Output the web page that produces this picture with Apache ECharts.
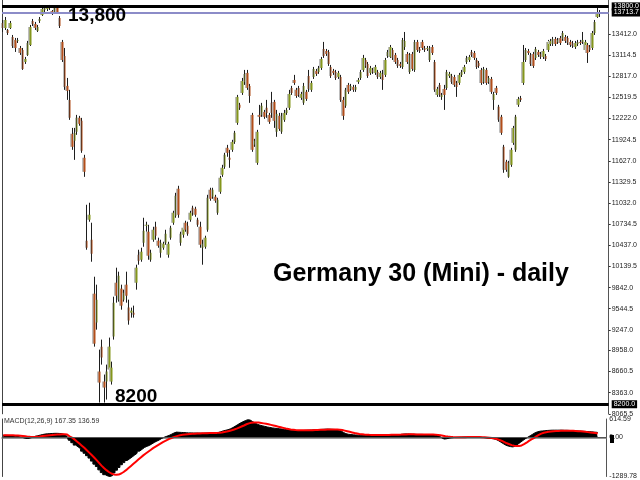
<!DOCTYPE html>
<html><head><meta charset="utf-8">
<script src="https://cdn.jsdelivr.net/npm/echarts@6/dist/echarts.min.js"></script>
<style>html,body{margin:0;padding:0;background:#fff}#c{width:640px;height:480px}</style>
</head><body><div id="c"></div>
<script>
const opens = [
13567,13496,13468,13496,13370,13328,13314,13215,13187,13018,
13117,13257,13595,13553,13454,13595,13679,13749,13763,13778,
13735,13721,13778,13637,13300,13103,12681,12484,12006,11908,
12034,12231,12189,11669,10502,10797,10516,9756,9349,8660,
9011,8519,8519,8688,8519,9152,9911,9672,9827,9672,
9883,9560,9489,9489,9911,10305,10234,10473,10712,10628,
10234,10516,10698,10502,10333,10403,10473,10305,10544,10755,
10853,11233,10473,10586,10755,10712,10797,10966,10951,10797,
10698,10403,10417,10656,11219,11120,11120,10895,11190,11430,
11542,11809,11669,11781,11893,12161,12414,12582,12737,12864,
12681,12273,11851,11598,12273,12273,12315,12372,12273,12442,
12456,12034,12259,12034,12203,12301,12372,12653,12765,12625,
12653,12512,12442,12597,12821,12625,12807,12892,12878,12934,
13201,13173,13159,12948,12892,12878,12807,12807,12484,12400,
12695,12639,12667,12625,12737,12793,12906,13046,12990,12864,
12906,12864,12878,12807,12850,12836,13103,13089,13187,13117,
13046,12990,12948,13229,13131,12878,13131,12906,13300,13201,
13300,13215,13201,13046,13229,13018,12554,12695,12526,12639,
12653,12821,12821,12807,12723,12723,12836,12878,13018,13046,
13159,13145,13046,13004,12906,12737,12906,12737,12779,12484,
12653,12386,12245,11823,11612,11401,11570,11879,11781,12414,
12512,12723,13046,13173,13117,13131,13075,13159,13131,13089,
13103,13187,13271,13271,13342,13300,13356,13342,13370,13356,
13300,13285,13229,13271,13300,13300,13187,13257,13229,13215,
13426,13651,13693];
const closes = [
13496,13609,13426,13567,13243,13215,13328,13145,12920,13060,
13285,13510,13553,13496,13510,13623,13763,13778,13778,13792,
13693,13778,13721,13524,13046,12667,12611,12231,11823,12020,
12231,12147,11767,11472,10403,10867,10319,9053,9672,8505,
8857,8435,8660,9011,8716,9630,9728,10009,9588,9770,
9728,9377,9517,9461,10122,10220,10347,10642,10726,10291,
10333,10656,10572,10431,10473,10459,10600,10459,10684,10895,
11134,10867,10600,10684,10656,10600,10895,10895,10867,10726,
10445,10459,10544,11106,11092,11219,11064,11078,11387,11528,
11711,11739,11640,11893,12020,12526,12372,12751,12850,12653,
12540,11781,11908,12034,12245,12400,12245,12301,12175,12301,
12189,12287,12076,12259,12301,12343,12568,12582,12723,12540,
12554,12568,12681,12498,12639,12723,12920,12850,12934,13060,
13103,13131,12990,12821,12864,12793,12864,12484,12259,12625,
12597,12681,12625,12667,12765,12878,13075,12962,12821,12934,
12878,12948,12807,12864,12765,13046,13159,13229,13075,13018,
12962,12962,13328,13314,13018,13117,12920,13300,13187,13173,
13215,13187,13215,13215,13145,12625,12639,12554,12554,12554,
12878,12850,12737,12695,12667,12836,12878,12948,13075,13089,
13117,13075,12948,12962,12723,12920,12723,12793,12597,12568,
12582,12203,12020,11500,11500,11598,11781,12090,12245,12498,
12484,13018,13187,13145,12990,12962,13201,13117,13089,13173,
13060,13300,13314,13342,13271,13328,13285,13426,13314,13285,
13257,13243,13285,13300,13285,13328,13300,13145,13187,13426,
13581,13707,13713.7];
const lows = [
13440,13468,13398,13482,13215,13159,13285,13117,12906,12990,
13103,13243,13524,13468,13440,13567,13665,13721,13735,13749,
13679,13707,13693,13496,13018,12625,12484,12203,11781,11640,
11992,12120,11739,11401,10375,10769,10206,9011,9250,8224,
8758,8224,8266,8660,8477,9110,9630,9644,9531,9644,
9630,9320,9419,9419,9813,10164,10206,10417,10628,10234,
10206,10487,10516,10403,10263,10375,10445,10263,10516,10726,
10825,10825,10431,10544,10628,10572,10769,10853,10839,10698,
10403,10164,10389,10628,11064,11092,11036,10867,11162,11401,
11514,11683,11528,11753,11865,12133,12343,12554,12695,12625,
12442,11753,11823,11570,12133,12245,12217,12231,12147,12231,
12090,11964,12048,12006,12175,12273,12343,12554,12695,12512,
12526,12484,12414,12470,12597,12597,12779,12821,12850,12906,
13075,13103,12962,12793,12836,12765,12779,12456,12203,12372,
12568,12611,12597,12597,12709,12765,12878,12934,12793,12836,
12850,12836,12779,12779,12625,12807,13075,13075,13046,12990,
12934,12934,12920,13187,12990,12850,12892,12878,13159,13145,
13187,13159,13173,13018,13117,12597,12526,12526,12484,12343,
12625,12793,12709,12667,12526,12695,12807,12850,12990,13018,
13089,13046,12920,12934,12695,12709,12695,12709,12568,12343,
12554,12175,11992,11458,11472,11387,11542,11851,11753,12386,
12456,12695,13018,13117,12962,12934,13046,13089,13060,13060,
13032,13159,13243,13243,13243,13271,13257,13314,13285,13257,
13229,13215,13201,13243,13257,13271,13159,13004,13159,13187,
13398,13637,13651];
const highs = [
13609,13651,13482,13595,13398,13356,13356,13243,13215,13089,
13314,13539,13623,13581,13539,13651,13792,13806,13806,13820,
13749,13792,13806,13665,13328,13215,12793,12625,12090,12090,
12273,12259,12231,11711,11008,11036,10755,9995,9883,8969,
9110,8618,8758,9138,8800,9714,10122,10066,9883,9813,
10066,9672,9560,9588,10164,10375,10403,10825,10769,10726,
10375,10698,10769,10544,10516,10487,10656,10487,10712,10923,
11176,11275,10628,10726,10783,10769,10923,10994,10980,10825,
10769,10516,10572,11148,11247,11247,11148,11106,11415,11570,
11739,11851,11781,11922,12048,12554,12442,12793,12906,12906,
12709,12301,11936,12062,12414,12442,12343,12484,12301,12597,
12484,12343,12301,12301,12343,12372,12625,12681,12836,12653,
12681,12597,12723,12625,12906,12751,12948,12920,12962,13089,
13300,13201,13187,12976,12920,12906,12892,12836,12526,12653,
12723,12709,12695,12695,12793,12906,13117,13075,13018,12962,
12934,12976,12906,12892,12906,13075,13187,13257,13215,13145,
13075,13018,13356,13440,13159,13145,13159,13328,13328,13229,
13328,13243,13243,13243,13257,13046,12667,12723,12582,12695,
12906,12878,12850,12836,12751,12864,12906,12976,13103,13117,
13187,13173,13075,13032,12934,12948,12934,12821,12807,12597,
12681,12414,12273,11851,11640,11626,11809,12118,12273,12526,
12540,13257,13215,13201,13145,13159,13229,13187,13159,13201,
13131,13328,13342,13370,13370,13356,13384,13454,13398,13384,
13328,13314,13314,13328,13328,13440,13328,13285,13257,13454,
13609,13778,13749];
const macdMain = [
70,75,70,65,55,45,35,20,0,-25,-30,-15,10,
40,60,80,100,115,125,130,135,140,140,135,125,100,40,
-90,-170,-250,-310,-370,-450,-520,-600,-680,-780,-880,-960,-1070,-1160,-1230,-1270,-1290,-1260,-1170,-1080,
-990,-900,-830,-760,-700,-640,-580,-520,-450,-390,-330,-290,-260,-210,-160,-120,-80,-30,10,40,70,110,150,180,
175,170,165,160,155,155,150,150,150,145,145,150,155,160,160,165,170,
190,220,240,260,290,330,380,430,480,520,560,590,580,530,480,440,410,
390,370,350,335,320,310,300,290,280,270,260,250,245,240,
235,230,230,235,240,245,250,255,260,265,270,275,280,280,275,270,265,260,
220,170,130,110,100,90,85,80,80,
80,80,85,85,80,80,80,80,80,85,90,95,95,95,95,100,110,120,120,115,110,110,105,105,105,100,100,100,100,95,90,
50,-10,-50,-40,-20,-10,0,5,10,15,20,20,25,25,20,20,15,10,0,-10,-20,-30,-40,
-60,-100,-150,-200,-250,-280,-300,-310,-280,-220,-160,-100,-40,10,60,110,160,190,210,220,225,
235,240,245,245,245,245,245,240,240,235,230,225,220,215,210,205,200,195,190,180,175,167.35];
const macdSignal = [
80,80,78,76,74,70,65,58,50,40,30,25,22,
25,30,38,48,58,68,78,86,94,100,105,110,110,100,
40,0,-60,-130,-200,-270,-340,-420,-500,-580,-660,-750,-840,-930,-1010,-1080,-1140,-1190,-1220,-1235,
-1225,-1190,-1140,-1080,-1010,-940,-870,-800,-730,-660,-590,-530,-470,-410,-350,-300,-250,-200,-150,-110,-70,-30,0,30,
55,75,90,100,110,118,125,130,135,138,140,142,145,148,150,152,155,
160,170,185,200,220,240,265,295,330,365,400,440,470,490,500,500,495,
485,470,455,440,420,400,380,360,340,320,300,285,270,260,
250,245,240,240,240,240,242,245,248,250,255,258,262,265,268,268,268,268,
262,250,230,210,190,170,150,135,120,
110,100,95,90,88,86,85,85,85,85,86,88,90,90,92,95,98,102,105,106,106,106,105,104,104,103,102,101,100,99,97,
88,75,60,45,33,25,18,14,12,11,12,13,15,16,17,17,17,15,12,8,2,-5,-15,
-30,-50,-80,-110,-150,-190,-220,-250,-270,-280,-280,-260,-220,-170,-110,-60,-20,40,90,130,160,
175,190,200,208,215,220,224,226,228,228,226,222,218,212,205,198,190,180,168,158,148,136.59];
const priceTicks = [8065.5,8363.0,8660.5,8958.0,9247.0,9544.5,9842.0,10139.5,10437.0,10734.5,11032.0,11329.5,11627.0,11924.5,12222.0,12519.5,12817.0,13114.5,13412.0];
const macdTicks = [-1289.78, 0, 614.59];
const levelTop = 13800, levelBottom = 8200, lastPrice = 13713.7;
const slotCount = 246;

const cats = Array.from({length: slotCount}, (_, i) => String(i));
const ohlc = opens.map((o, i) => [o, closes[i], lows[i], highs[i]]);
const bodies = opens.map((o, i) => [o, closes[i], Math.min(o, closes[i]), Math.max(o, closes[i])]);
const FONT = '"Liberation Sans", Arial, sans-serif';
const small = {fontFamily: FONT, fontSize: 7, color: '#222'};

const chart = echarts.init(document.getElementById('c'), null, {renderer: 'canvas'});
chart.setOption({
  animation: false,
  backgroundColor: '#fff',
  grid: [
    {left: 2, right: 29, top: 0, height: 413.8},
    {left: 2, right: 29, top: 419, height: 61}
  ],
  xAxis: [
    {type: 'category', gridIndex: 0, data: cats, boundaryGap: true, show: false},
    {type: 'category', gridIndex: 1, data: cats, boundaryGap: true, position: 'top', offset: 2.5,
     axisLine: {show: true, lineStyle: {color: '#777', width: 1.5}}, axisTick: {show: false}, axisLabel: {show: false}, splitLine: {show: false}}
  ],
  yAxis: [
    {type: 'value', gridIndex: 0, position: 'right', min: 8065.5, max: 13890, scale: true,
     axisLine: {show: true, lineStyle: {color: '#555', width: 1}},
     axisTick: {show: true, length: 2, customValues: priceTicks, lineStyle: {color: '#333'}},
     axisLabel: Object.assign({customValues: priceTicks, margin: 3, formatter: v => v.toFixed(1)}, small),
     splitLine: {show: false}},
    {type: 'value', gridIndex: 1, position: 'right', min: -1289.78, max: 614.59,
     axisLine: {show: true, lineStyle: {color: '#555', width: 1}},
     axisTick: {show: false},
     axisLabel: Object.assign({customValues: macdTicks, margin: 3, formatter: v => v.toFixed(2)}, small),
     splitLine: {show: false}},
    {type: 'value', gridIndex: 0, position: 'left', axisLine: {show: true, lineStyle: {color: '#444', width: 1}},
     axisTick: {show: false}, axisLabel: {show: false}, splitLine: {show: false}},
    {type: 'value', gridIndex: 1, position: 'left', axisLine: {show: true, lineStyle: {color: '#444', width: 1}},
     axisTick: {show: false}, axisLabel: {show: false}, splitLine: {show: false}}
  ],
  series: [
    {type: 'candlestick', xAxisIndex: 0, yAxisIndex: 0, data: ohlc, barWidth: 1, z: 2,
     itemStyle: {color: '#1e1e1e', color0: '#1e1e1e', borderColor: '#1e1e1e', borderColor0: '#1e1e1e', borderWidth: 1},
     markLine: {
       silent: true, symbol: 'none', animation: false,
       label: {show: true, position: 'end', distance: 3, backgroundColor: '#000', color: '#fff',
               fontFamily: FONT, fontSize: 7, padding: [1, 2, 0, 2], formatter: p => p.value.toFixed(1)},
       data: [
         {yAxis: levelTop, lineStyle: {color: '#000', width: 3, type: 'solid'}},
         {yAxis: lastPrice, lineStyle: {color: '#8c8cc8', width: 2, type: 'solid'}},
         {yAxis: levelBottom, lineStyle: {color: '#000', width: 3, type: 'solid'}}
       ]
     }},
    {type: 'candlestick', xAxisIndex: 0, yAxisIndex: 0, data: bodies, barWidth: 2, z: 3,
     itemStyle: {color: '#84961c', color0: '#b24e1a', borderColor: '#84961c', borderColor0: '#b24e1a', borderWidth: 0,
                 shadowColor: '#bdbdbd', shadowBlur: 0, shadowOffsetX: -1.5, shadowOffsetY: 0}},
    {type: 'line', xAxisIndex: 1, yAxisIndex: 1, data: macdMain, step: 'middle', symbol: 'none',
     lineStyle: {color: '#000', width: 1}, areaStyle: {color: '#000', opacity: 1, origin: 0},
     markLine: {silent: true, symbol: 'none', label: {show: false},
                data: [{yAxis: 0, lineStyle: {color: '#555', width: 1, type: 'solid'}}]}},
    {type: 'line', xAxisIndex: 1, yAxisIndex: 1, data: macdSignal, symbol: 'none', smooth: false,
     lineStyle: {color: '#ff0000', width: 2}}
  ],
  graphic: [
    {type: 'text', left: 68, top: 6, z: 100, style: {text: '13,800', font: 'bold 19px ' + FONT, fill: '#000'}},
    {type: 'text', left: 115, top: 387, z: 100, style: {text: '8200', font: 'bold 19px ' + FONT, fill: '#000'}},
    {type: 'text', left: 273, top: 262, z: 100, style: {text: 'Germany 30 (Mini) - daily', font: 'bold 25px ' + FONT, fill: '#000'}},
    {type: 'text', left: 4, top: 418, z: 100, style: {text: 'MACD(12,26,9) ' + macdMain[macdMain.length - 1] + ' ' + macdSignal[macdSignal.length - 1], font: '7px ' + FONT, fill: '#333'}},
    {type: 'rect', right: 26, top: 435, z: 100, shape: {width: 4, height: 8}, style: {fill: '#000'}}
  ]
});
</script>
</body></html>
